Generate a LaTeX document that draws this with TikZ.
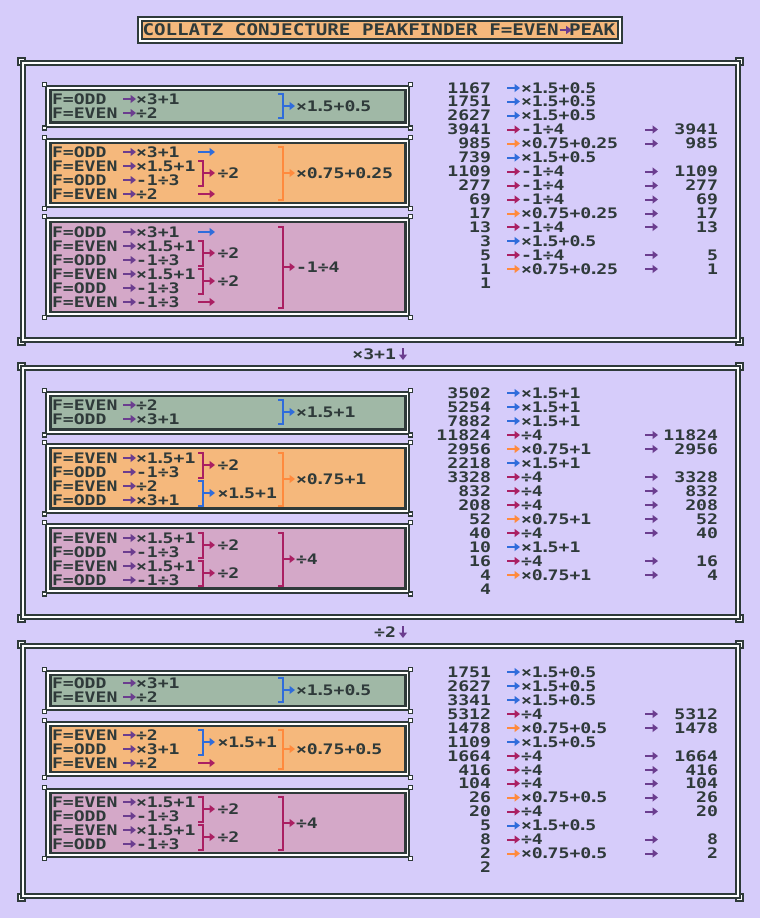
\documentclass[tikz,border=0pt]{standalone}
\usepackage{fontspec}
\usetikzlibrary{arrows.meta}
\newfontfamily\pxf[FakeStretch=1.25]{DejaVu Sans Mono}
\newfontfamily\ttlf[FakeStretch=1.2]{DejaVu Sans Mono}
\definecolor{bgc}{HTML}{D6CCFA}
\definecolor{dk}{HTML}{2F3A3A}
\definecolor{gfill}{HTML}{A0B8A6}
\definecolor{ofill}{HTML}{F5B87C}
\definecolor{pfill}{HTML}{D4A8C8}
\definecolor{cb}{HTML}{2F6CDB}
\definecolor{cm}{HTML}{AA1F62}
\definecolor{co}{HTML}{FF8A3D}
\definecolor{cp}{HTML}{6B3D8F}
\newcommand\pd{\kern-3pt.\kern-3pt}
\newcommand\opxA{×1\pd5+0\pd5}
\newcommand\opxB{×0\pd75+0\pd25}
\newcommand\opxC{-1÷4}
\newcommand\opxD{×1\pd5+1}
\newcommand\opxE{÷4}
\newcommand\opxF{×0\pd75+1}
\newcommand\opxG{×0\pd75+0\pd5}
\newcommand\opxH{×3+1}
\newcommand\opxI{-1÷3}
\newcommand\opxJ{÷2}
\tikzset{
 tx/.style={font=\pxf\bfseries\fontsize{14.5pt}{14pt}\selectfont, text=dk, inner sep=0pt, outer sep=0pt, text height=10.6pt, text depth=0pt, anchor=west},
 ttx/.style={font=\ttlf\bfseries\fontsize{16pt}{16pt}\selectfont, text=dk, inner sep=0pt, outer sep=0pt, text height=11.7pt, text depth=0pt, anchor=west},
 ca/.style={draw=#1, line width=2pt, -{Triangle[length=5.5pt,width=8pt]}},
 bkt/.style={draw=#1, line width=2pt, line join=miter},
 frm/.style={draw=dk, double=white, double distance=2pt, line width=2pt},
 pcsq/.style={draw=dk, fill=white, line width=2pt},
 csq/.style={draw=dk, fill=white, line width=1.5pt},
}
% box row: name, y, label, op
\newcommand\brw[4]{%
 \node[tx] (#1l) at (52,#2) {#3};
 \draw[ca=cp] (123,#2) -- (136,#2);
 \node[tx] (#1o) at (136,#2) {#4};
}
% bracket: colour, x of vertical, ytop, ybot, arrow end x, name, text x, text
\newcommand\bk[8]{%
 \draw[bkt=#1] (#2-5,#3) -- (#2,#3) -- (#2,#4) -- (#2-5,#4);
 \coordinate (#6) at (#2,{(#3+#4)/2});
 \draw[ca=#1] (#6) -- ++(#5-#2,0);
 \node[tx] (#6t) at (#7,{(#3+#4)/2}) {#8};
}
% data row: name, y, number, colour, op, right number
\newcommand\drw[6]{%
 \node[tx, anchor=east] (#1n) at (491,#2) {#3};
 \draw[ca=#4] (507,#2) -- (520,#2);
 \node[tx] (#1o) at (521,#2) {#5};
 \if\relax\detokenize{#6}\relax\else
 \draw[ca=cp] (645,#2) -- (658,#2);
 \node[tx, anchor=east] (#1r) at (718,#2) {#6};
 \fi
}
% sub box: top, bottom, fill
\newcommand\sbx[3]{%
 \draw[draw=dk, line width=2pt, fill=white] (46,#1) rectangle (409,#2);
 \draw[draw=dk, line width=2.5pt, fill=#3] (50.5,#1+4.2) rectangle (405.3,#2-3.8);
 \foreach \cx/\cy in {44.5/#1-1.5, 410.5/#1-1.5, 44.5/#2+1.5, 410.5/#2+1.5}
 \draw[csq] (\cx-2,\cy-2) rectangle (\cx+2,\cy+2);
}
% panel frame: top, bottom
\newcommand\pfr[2]{%
 \foreach \cx/\cy in {21.2/#1-1.8, 739.3/#1-1.8, 21.2/#2+1.8, 739.3/#2+1.8}
 \draw[pcsq] (\cx-3.5,\cy-3.5) rectangle (\cx+3.5,\cy+3.5);
 \draw[frm] (23,#1) rectangle (737.5,#2);
}
\begin{document}
\begin{tikzpicture}[x=1pt,y=-1pt]
\useasboundingbox (0,0) rectangle (760,918);
\fill[bgc] (0,0) rectangle (760,918);
% title
\draw[draw=dk, line width=1.7pt, fill=white] (138,17) rectangle (622,43);
\draw[draw=dk, line width=2pt, fill=ofill] (142,21) rectangle (618,39);
\node[ttx] (t1) at (142.5,30) {COLLATZ CONJECTURE PEAKFINDER F=EVEN};
\node[ttx] (t2) at (569,30) {PEAK};
\draw[ca=cp] (t1.east) ++(1,0) -- ++(12,0);
% ================= panel 1
\pfr{63}{339.5}
\sbx{86}{126.5}{gfill}
\brw{ga}{99}{F=ODD}{\opxH}
\brw{gb}{113}{F=EVEN}{\opxJ}
\bk{cb}{283}{94}{118}{295}{gk}{296}{\opxA}
\sbx{139}{207}{ofill}
\brw{oa}{152}{F=ODD}{\opxH}
\draw[ca=cb] (198,152) -- (215,152);
\brw{ob}{166}{F=EVEN}{\opxD}
\brw{oc}{180}{F=ODD}{\opxI}
\brw{od}{194}{F=EVEN}{\opxJ}
\draw[ca=cm] (198,194) -- (215,194);
\bk{cm}{203}{160.5}{185.5}{215}{ok1}{217.5}{\opxJ}
\bk{co}{283}{146.5}{199.5}{295}{ok2}{296}{\opxB}
\sbx{218}{316}{pfill}
\brw{pa}{232}{F=ODD}{\opxH}
\draw[ca=cb] (198,232) -- (215,232);
\brw{pb}{246}{F=EVEN}{\opxD}
\brw{pc}{260}{F=ODD}{\opxI}
\brw{pd}{274}{F=EVEN}{\opxD}
\brw{pe}{288}{F=ODD}{\opxI}
\brw{pf}{302}{F=EVEN}{\opxI}
\draw[ca=cm] (198,302) -- (215,302);
\bk{cm}{203}{240.5}{265.5}{215}{pk1}{217.5}{\opxJ}
\bk{cm}{203}{268.5}{293.5}{215}{pk2}{217.5}{\opxJ}
\bk{cm}{283}{226.5}{307.5}{295}{pk3}{296}{\opxC}
\drw{ra}{88}{1167}{cb}{\opxA}{}
\drw{rb}{101.5}{1751}{cb}{\opxA}{}
\drw{rc}{115.5}{2627}{cb}{\opxA}{}
\drw{rd}{129.5}{3941}{cm}{\opxC}{3941}
\drw{re}{143.5}{985}{co}{\opxB}{985}
\drw{rf}{157.5}{739}{cb}{\opxA}{}
\drw{rg}{171.5}{1109}{cm}{\opxC}{1109}
\drw{rh}{185.5}{277}{cm}{\opxC}{277}
\drw{ri}{199.5}{69}{cm}{\opxC}{69}
\drw{rj}{213.5}{17}{co}{\opxB}{17}
\drw{rk}{227}{13}{cm}{\opxC}{13}
\drw{rl}{241}{3}{cb}{\opxA}{}
\drw{rm}{255}{5}{cm}{\opxC}{5}
\drw{rn}{269}{1}{co}{\opxB}{1}
\node[tx, anchor=east] (ro) at (491,283) {1};
% link 1
\node[tx, anchor=east] (m1) at (396,354) {\opxH};
\draw[ca=cp] (403,348) -- (403,360);
% ================= panel 2
\pfr{368}{616.5}
\sbx{392}{433.5}{gfill}
\brw{ha}{405}{F=EVEN}{\opxJ}
\brw{hb}{419}{F=ODD}{\opxH}
\bk{cb}{283}{400}{424}{295}{hk}{296}{\opxD}
\sbx{444}{512.5}{ofill}
\brw{ia}{458}{F=EVEN}{\opxD}
\brw{ib}{472}{F=ODD}{\opxI}
\brw{ic}{486}{F=EVEN}{\opxJ}
\brw{id}{500}{F=ODD}{\opxH}
\bk{cm}{203}{452.5}{477.5}{215}{ik1}{217.5}{\opxJ}
\bk{cb}{203}{480.5}{505.5}{215}{ik2}{217.5}{\opxD}
\bk{co}{283}{452.5}{505.5}{295}{ik3}{296}{\opxF}
\sbx{524}{592.5}{pfill}
\brw{ja}{538}{F=EVEN}{\opxD}
\brw{jb}{552}{F=ODD}{\opxI}
\brw{jc}{566}{F=EVEN}{\opxD}
\brw{jd}{580}{F=ODD}{\opxI}
\bk{cm}{203}{532.5}{557.5}{215}{jk1}{217.5}{\opxJ}
\bk{cm}{203}{560.5}{585.5}{215}{jk2}{217.5}{\opxJ}
\bk{cm}{283}{532.5}{585.5}{295}{jk3}{296}{\opxE}
\drw{sa}{393}{3502}{cb}{\opxD}{}
\drw{sb}{407}{5254}{cb}{\opxD}{}
\drw{sc}{421}{7882}{cb}{\opxD}{}
\drw{sd}{435}{11824}{cm}{\opxE}{11824}
\drw{se}{449}{2956}{co}{\opxF}{2956}
\drw{sf}{463}{2218}{cb}{\opxD}{}
\drw{sg}{477}{3328}{cm}{\opxE}{3328}
\drw{sh}{491}{832}{cm}{\opxE}{832}
\drw{si}{505}{208}{cm}{\opxE}{208}
\drw{sj}{519}{52}{co}{\opxF}{52}
\drw{sk}{533}{40}{cm}{\opxE}{40}
\drw{sl}{547}{10}{cb}{\opxD}{}
\drw{sm}{561}{16}{cm}{\opxE}{16}
\drw{sn}{575}{4}{co}{\opxF}{4}
\node[tx, anchor=east] (so) at (491,589) {4};
% link 2
\node[tx, anchor=east] (m2) at (396,632) {\opxJ};
\draw[ca=cp] (403,626) -- (403,638);
% ================= panel 3
\pfr{646}{895.5}
\sbx{671}{710}{gfill}
\brw{ka}{683}{F=ODD}{\opxH}
\brw{kb}{697}{F=EVEN}{\opxJ}
\bk{cb}{283}{678}{702}{295}{kk}{296}{\opxA}
\sbx{722}{776}{ofill}
\brw{la}{735}{F=EVEN}{\opxJ}
\brw{lb}{749}{F=ODD}{\opxH}
\brw{lc}{763}{F=EVEN}{\opxJ}
\draw[ca=cm] (198,763) -- (215,763);
\bk{cb}{203}{729.5}{754.5}{215}{lk1}{217.5}{\opxD}
\bk{co}{283}{729.5}{768.5}{295}{lk2}{296}{\opxG}
\sbx{789}{857}{pfill}
\brw{na}{802}{F=EVEN}{\opxD}
\brw{nb}{816}{F=ODD}{\opxI}
\brw{nc}{830}{F=EVEN}{\opxD}
\brw{nd}{844}{F=ODD}{\opxI}
\bk{cm}{203}{796.5}{821.5}{215}{nk1}{217.5}{\opxJ}
\bk{cm}{203}{824.5}{849.5}{215}{nk2}{217.5}{\opxJ}
\bk{cm}{283}{796.5}{849.5}{295}{nk3}{296}{\opxE}
\drw{ua}{672}{1751}{cb}{\opxA}{}
\drw{ub}{686}{2627}{cb}{\opxA}{}
\drw{uc}{700}{3341}{cb}{\opxA}{}
\drw{ud}{714}{5312}{cm}{\opxE}{5312}
\drw{ue}{728}{1478}{co}{\opxG}{1478}
\drw{uf}{742}{1109}{cb}{\opxA}{}
\drw{ug}{756}{1664}{cm}{\opxE}{1664}
\drw{uh}{770}{416}{cm}{\opxE}{416}
\drw{ui}{783.5}{104}{cm}{\opxE}{104}
\drw{uj}{797.5}{26}{co}{\opxG}{26}
\drw{uk}{811.5}{20}{cm}{\opxE}{20}
\drw{ul}{825.5}{5}{cb}{\opxA}{}
\drw{um}{839.5}{8}{cm}{\opxE}{8}
\drw{un}{853.5}{2}{co}{\opxG}{2}
\node[tx, anchor=east] (uo) at (491,867.5) {2};
\end{tikzpicture}
\end{document}
